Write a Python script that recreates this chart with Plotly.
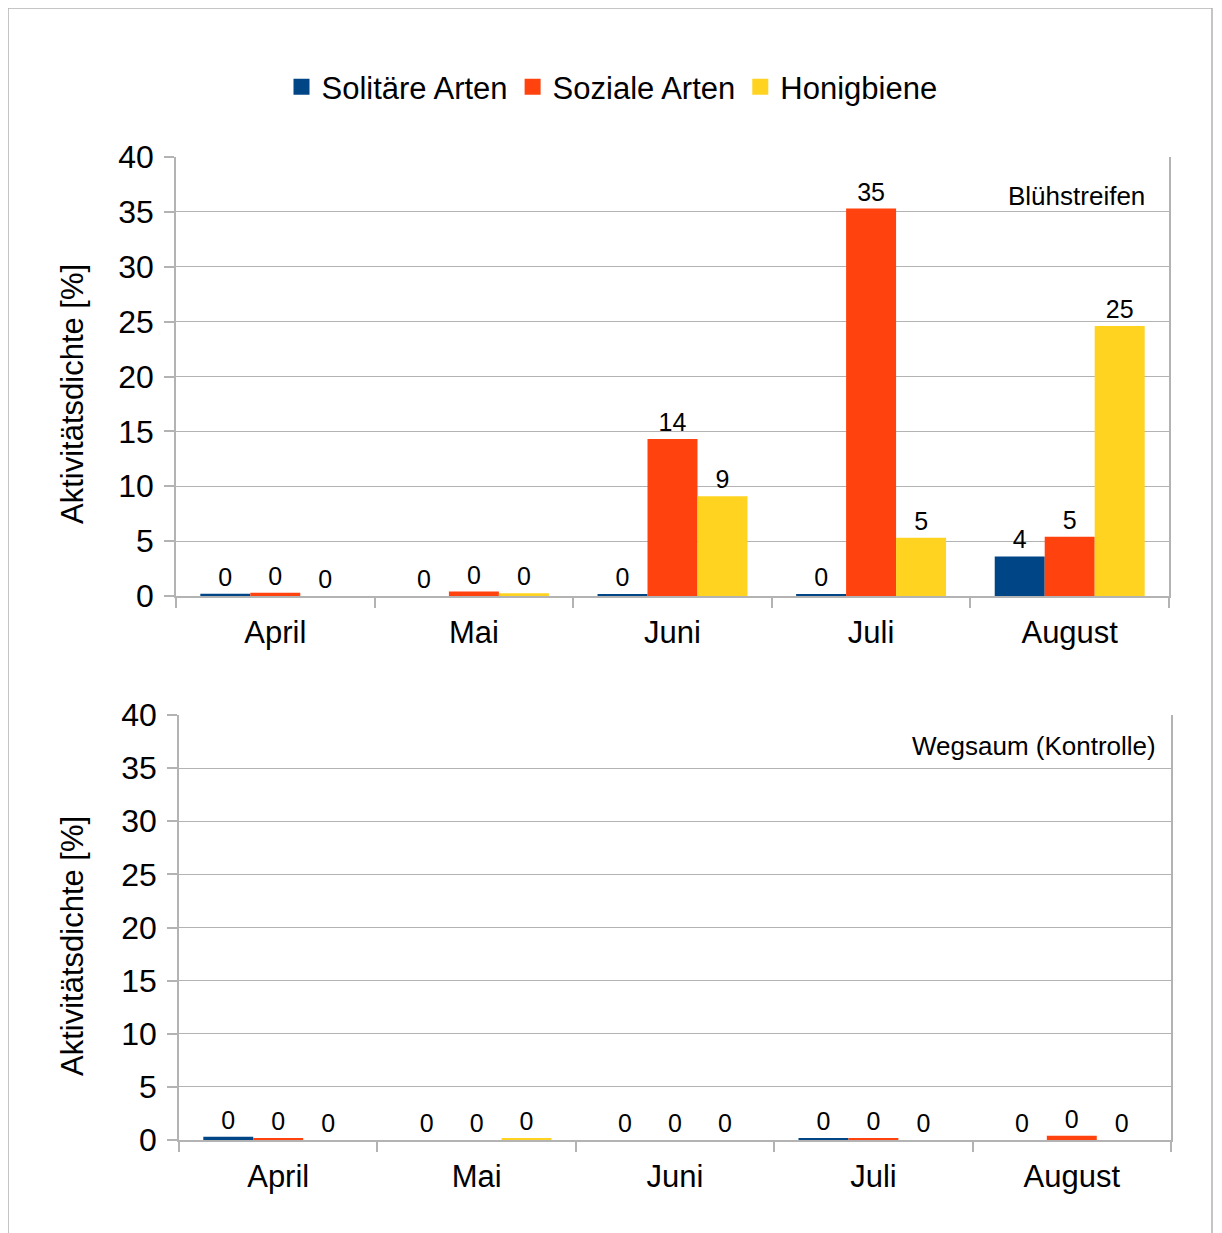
import plotly.graph_objects as go

months = ["April", "Mai", "Juni", "Juli", "August"]
series_names = ["Solitäre Arten", "Soziale Arten", "Honigbiene"]
colors = ["#004586", "#ff420e", "#ffd320"]

# Blühstreifen (top panel)
top_solitaer = [0.2, 0.0, 0.1, 0.1, 3.6]
top_sozial = [0.3, 0.4, 14.3, 35.3, 5.4]
top_honig = [0.0, 0.25, 9.1, 5.3, 24.6]

# Wegsaum (Kontrolle) (bottom panel)
bot_solitaer = [0.3, 0.0, 0.0, 0.15, 0.0]
bot_sozial = [0.15, 0.0, 0.0, 0.15, 0.4]
bot_honig = [0.0, 0.15, 0.0, 0.0, 0.0]

y_ticks = [0, 5, 10, 15, 20, 25, 30, 35, 40]
panel_labels = ["Blühstreifen", "Wegsaum (Kontrolle)"]
y_title = "Aktivitätsdichte [%]"

OFF = 8  # page body margin
W, H = 1222 - OFF, 1233 - OFF
FONT = "Liberation Sans, Arial, sans-serif"
GRID = "#b3b3b3"

fig = go.Figure()

top = [top_solitaer, top_sozial, top_honig]
bot = [bot_solitaer, bot_sozial, bot_honig]

for i, name in enumerate(series_names):
    fig.add_trace(go.Bar(
        x=months, y=top[i], name=name, marker=dict(color=colors[i], line=dict(width=0)),
        text=top[i], texttemplate="%{y:.0f}", textposition="outside",
        textfont=dict(size=25, color="#000000", family=FONT), cliponaxis=False,
        xaxis="x", yaxis="y", legendgroup=name, showlegend=False,
    ))
for i, name in enumerate(series_names):
    fig.add_trace(go.Bar(
        x=months, y=bot[i], name=name, marker=dict(color=colors[i], line=dict(width=0)),
        text=bot[i], texttemplate="%{y:.0f}", textposition="outside",
        textfont=dict(size=25, color="#000000", family=FONT), cliponaxis=False,
        xaxis="x2", yaxis="y2", legendgroup=name, showlegend=False,
    ))
# legend entries (square swatches like the original)
for i, name in enumerate(series_names):
    fig.add_trace(go.Scatter(
        x=[None], y=[None], mode="markers", name=name, legendgroup=name,
        marker=dict(symbol="square", size=18, color=colors[i]),
        xaxis="x", yaxis="y", showlegend=True, hoverinfo="skip",
    ))

def px_x(v):
    return (v - OFF) / W

def px_y(v):
    return 1 - (v - OFF) / H

xcommon = dict(
    type="category", showgrid=False, showline=True, linecolor=GRID, linewidth=1.5,
    ticks="outside", tickson="boundaries", ticklen=10, tickcolor=GRID, tickwidth=1.5,
    tickfont=dict(size=31, color="#000000", family=FONT), mirror=False,
    categoryorder="array", categoryarray=months, automargin=False,
    ticklabelstandoff=8, zeroline=False,
)
ycommon = dict(
    range=[0, 40], tickvals=y_ticks, showgrid=True, gridcolor=GRID, gridwidth=1,
    showline=True, linecolor=GRID, linewidth=1.5, mirror=True,
    ticks="outside", ticklen=10, tickcolor=GRID, tickwidth=1.5,
    tickfont=dict(size=32, color="#000000", family=FONT), zeroline=False,
    ticklabelstandoff=4, automargin=False,
)

fig.update_layout(
    template="none",
    width=W, height=H,
    margin=dict(l=0, r=0, t=0, b=0, autoexpand=False),
    paper_bgcolor="white", plot_bgcolor="white",
    barmode="group", bargap=0.245, bargroupgap=0,
    font=dict(family=FONT, color="#000000"),
    xaxis=dict(domain=[px_x(176), px_x(1169)], anchor="y", **xcommon),
    yaxis=dict(domain=[px_y(596), px_y(157)], anchor="x", **ycommon),
    xaxis2=dict(domain=[px_x(179), px_x(1171)], anchor="y2", **xcommon),
    yaxis2=dict(domain=[px_y(1140), px_y(715)], anchor="x2", **ycommon),
    legend=dict(
        orientation="h", x=px_x(612), xanchor="center", y=px_y(87), yanchor="middle",
        font=dict(size=31, color="#000000", family=FONT), itemwidth=30,
        bgcolor="rgba(0,0,0,0)", traceorder="normal",
    ),
    showlegend=True,
)

fig.add_annotation(text=panel_labels[0], x=px_x(1147), y=px_y(196), xref="paper", yref="paper",
                   xanchor="right", yanchor="middle", showarrow=False,
                   font=dict(size=26, color="#000000", family=FONT))
fig.add_annotation(text=panel_labels[1], x=px_x(1158), y=px_y(746), xref="paper", yref="paper",
                   xanchor="right", yanchor="middle", showarrow=False,
                   font=dict(size=26, color="#000000", family=FONT))
for yc in (394, 946):
    fig.add_annotation(text=y_title, x=px_x(72), y=px_y(yc), xref="paper", yref="paper",
                       xanchor="center", yanchor="middle", textangle=-90, showarrow=False,
                       font=dict(size=31, color="#000000", family=FONT))

# outer chart border
fig.add_shape(type="rect", xref="paper", yref="paper",
              x0=px_x(8), x1=px_x(1212), y0=-0.05, y1=px_y(8),
              line=dict(color=GRID, width=1.5), fillcolor="rgba(0,0,0,0)", layer="below")

fig.write_html("out.html")
